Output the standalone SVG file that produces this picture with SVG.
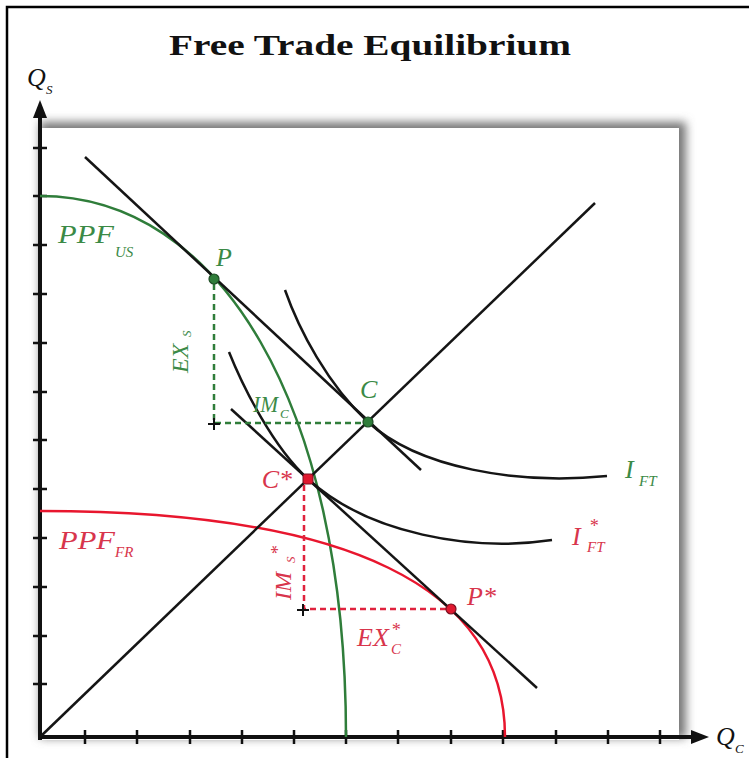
<svg xmlns="http://www.w3.org/2000/svg" width="749" height="758" viewBox="0 0 749 758">
<defs>
<style>
.ax{stroke:#111;stroke-width:4;fill:none}
.tk{stroke:#111;stroke-width:2.5;fill:none}
.bl{stroke:#151515;stroke-width:2.5;fill:none}
.gr{stroke:#2f7d3a;stroke-width:2.5;fill:none}
.rd{stroke:#e8162e;stroke-width:2.5;fill:none}
.gd{stroke:#2f7d3a;stroke-width:2.5;stroke-dasharray:6 4;fill:none}
.rdd{stroke:#e0233d;stroke-width:2.5;stroke-dasharray:6 4;fill:none}
.pl{stroke:#111;stroke-width:2;fill:none}
.lb{font-family:"Liberation Serif",serif;font-style:italic;font-size:26px}
.lm{font-family:"Liberation Serif",serif;font-style:italic;font-size:24px}
.sb{font-family:"Liberation Serif",serif;font-style:italic;font-size:15px}
.ss{font-family:"Liberation Serif",serif;font-style:italic;font-size:13px}
.st{font-family:"Liberation Serif",serif;font-style:italic;font-size:18px}
.g{fill:#3b8a46}
.r{fill:#d8354c}
.k{fill:#111}
</style>
<filter id="sh" x="-5%" y="-5%" width="110%" height="110%"><feGaussianBlur stdDeviation="5"/></filter>
</defs>
<rect width="749" height="758" fill="#fff"/>
<path d="M7,758 V7 H749" stroke="#000" stroke-width="2.5" fill="none"/>
<text x="370" y="55" text-anchor="middle" font-family="Liberation Serif, serif" font-weight="bold" font-size="30" fill="#111" textLength="402" lengthAdjust="spacingAndGlyphs">Free Trade Equilibrium</text>

<g id="plot-area">
<rect x="40" y="122" width="646" height="616" fill="#777" filter="url(#sh)"/>
<rect x="40" y="128" width="639" height="612" fill="#fff"/>
</g>

<g id="axes">
<path class="ax" d="M40,740 V116"/>
<polygon points="40,100 33,118 47,118" fill="#111"/>
<path class="ax" d="M38,737 H693"/>
<polygon points="709,737 691,730 691,744" fill="#111"/>
<path class="tk" d="M33,148H47M33,196H47M33,245H47M33,294H47M33,343H47M33,392H47M33,440H47M33,489H47M33,538H47M33,587H47M33,636H47M33,684H47"/>
<path class="tk" d="M85,730V744M137,730V744M190,730V744M242,730V744M294,730V744M346,730V744M398,730V744M451,730V744M503,730V744M556,730V744M608,730V744M660,730V744"/>
<text class="lb k" x="27" y="86">Q</text><text class="ss k" x="46" y="94">S</text>
<text class="lb k" x="716" y="745">Q</text><text class="ss k" x="735" y="753">C</text>
</g>

<g id="ppf-us">
<path class="gr" d="M40,196 C220,196 346,405 346,737"/>
<text class="lb g" x="58" y="243" textLength="56" lengthAdjust="spacingAndGlyphs">PPF</text><text class="sb g" x="115" y="257">US</text>
</g>

<g id="ppf-fr">
<path class="rd" d="M40,511 C349,511 505,587 505,737"/>
<text class="lb r" x="59" y="549" textLength="56" lengthAdjust="spacingAndGlyphs">PPF</text><text class="sb r" x="115" y="557">FR</text>
</g>

<g id="diagonal">
<path class="bl" d="M40,737 L595,203"/>
</g>

<g id="price-us">
<path class="bl" d="M85,157 L421,470"/>
</g>

<g id="price-fr">
<path class="bl" d="M231,409 L537,688"/>
</g>

<g id="ic-ft">
<path class="bl" d="M285,290 C299,330 328,385 368,422 C418,468 517,485 607,476"/>
<text class="lb g" x="625" y="478">I</text><text class="sb g" x="639" y="486">FT</text>
</g>

<g id="ic-ft-star">
<path class="bl" d="M229,352 C243,387 273,447 308,479 C368,534 472,552 552,540"/>
<text class="lb r" x="572" y="545">I</text><text class="st r" x="589" y="532">*</text><text class="sb r" x="587" y="552">FT</text>
</g>

<g id="connectors">
<path class="gd" d="M214,284 V423 H362"/>
<path class="rdd" d="M304,485 V609 H446"/>
<path class="pl" d="M208,424 H220 M214,418 V430"/>
<path class="pl" d="M297,610 H309 M303,604 V616"/>
<text class="lm g" transform="translate(188,373) rotate(-90)">EX</text>
<text class="ss g" transform="translate(191,337) rotate(-90)">S</text>
<text class="lm g" x="253" y="412" textLength="25" lengthAdjust="spacingAndGlyphs">IM</text><text class="ss g" x="280" y="418">C</text>
<text class="lm r" transform="translate(291,600) rotate(-90)">IM</text>
<text class="st r" transform="translate(284,555) rotate(-90)">*</text>
<text class="ss r" transform="translate(295,563) rotate(-90)">S</text>
<text class="lb r" x="357" y="646">EX</text><text class="st r" x="391" y="636">*</text><text class="sb r" x="391" y="654">C</text>
</g>

<g id="point-P">
<circle cx="214" cy="279" r="5" fill="#2f7d3a" stroke="#1d4d24" stroke-width="1.2"/>
<text class="lb g" x="216" y="266">P</text>
</g>
<g id="point-C">
<circle cx="368" cy="422" r="5" fill="#2f7d3a" stroke="#1d4d24" stroke-width="1.2"/>
<text class="lb g" x="360" y="398">C</text>
</g>
<g id="point-Cstar">
<rect x="303" y="474" width="10" height="10" rx="2" fill="#e0182f" stroke="#7a1020" stroke-width="1"/>
<text class="lb r" x="292" y="488" text-anchor="end">C*</text>
</g>
<g id="point-Pstar">
<circle cx="451" cy="609" r="5" fill="#e0182f" stroke="#7a1020" stroke-width="1.2"/>
<text class="lb r" x="467" y="605">P*</text>
</g>
</svg>
